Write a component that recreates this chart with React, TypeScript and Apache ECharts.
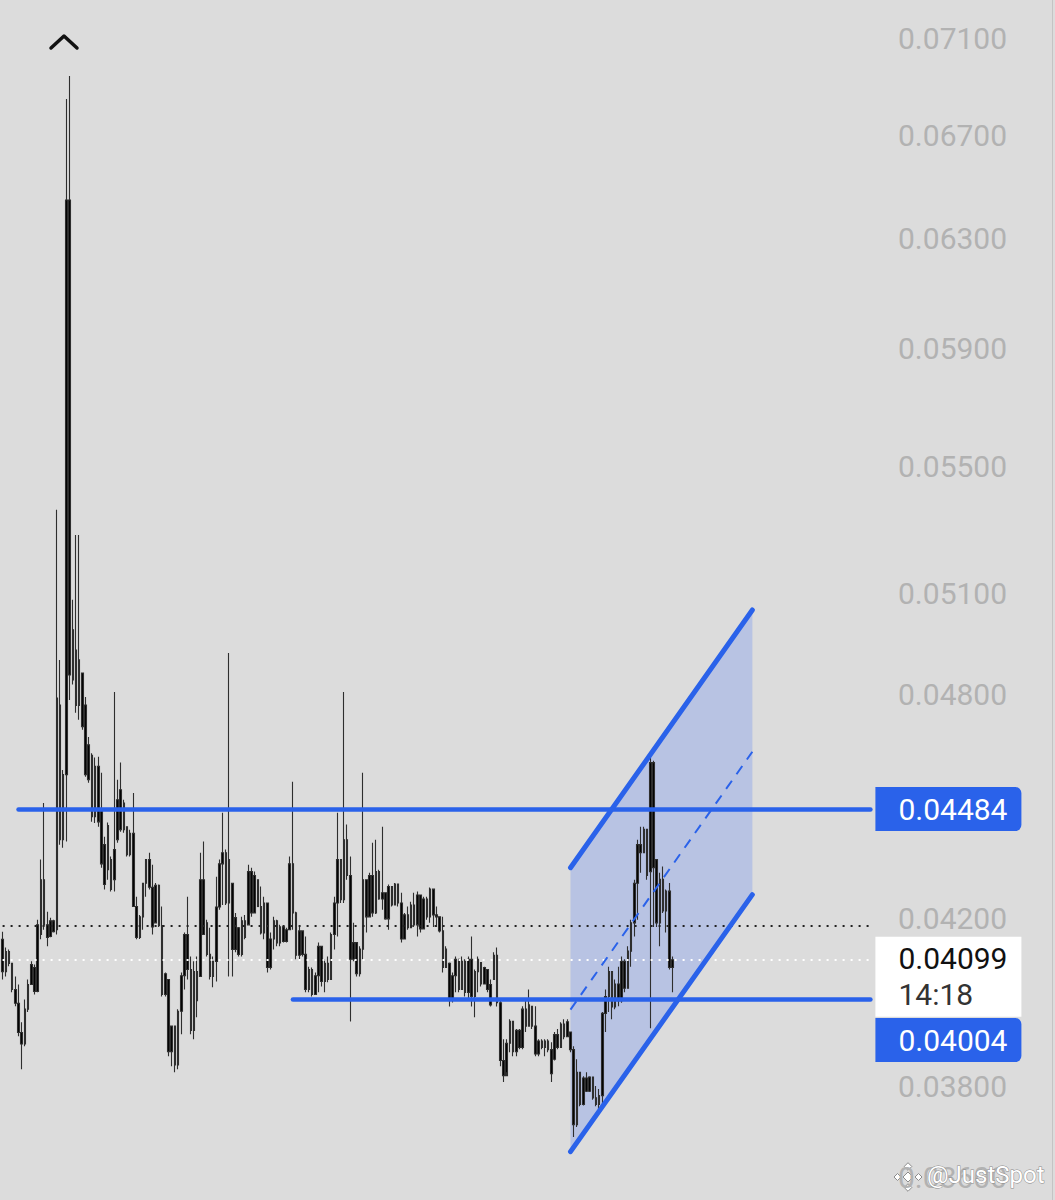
import React, { useEffect, useRef } from "react";
import * as echarts from "echarts";

// ---------- data ----------
const categoryCount = 273; // slots on the time axis (candles + empty space on the right)

// [open, close, low, high]
const candles: number[][] = [
  [0.04149, 0.0407, 0.04051, 0.04168],
  [0.0407, 0.04119, 0.04058, 0.04129],
  [0.04119, 0.0409, 0.04083, 0.04124],
  [0.0409, 0.04027, 0.0402, 0.0409],
  [0.04027, 0.03994, 0.03987, 0.04058],
  [0.03994, 0.03925, 0.03916, 0.04039],
  [0.03925, 0.03898, 0.0384, 0.03949],
  [0.03898, 0.0398, 0.03893, 0.04003],
  [0.0398, 0.04039, 0.03973, 0.04051],
  [0.04039, 0.04087, 0.04039, 0.04095],
  [0.0408, 0.04022, 0.04015, 0.04087],
  [0.04022, 0.04185, 0.0402, 0.04198],
  [0.04161, 0.04299, 0.04149, 0.04351],
  [0.04299, 0.04185, 0.04173, 0.045],
  [0.04185, 0.04154, 0.04132, 0.04218],
  [0.04156, 0.04195, 0.04154, 0.04203],
  [0.04195, 0.04168, 0.04166, 0.04198],
  [0.04173, 0.04791, 0.04161, 0.0536],
  [0.04771, 0.04403, 0.0439, 0.04901],
  [0.04403, 0.04577, 0.04382, 0.0459],
  [0.04577, 0.06447, 0.04398, 0.06847],
  [0.06447, 0.04857, 0.04785, 0.06941],
  [0.04843, 0.0499, 0.0483, 0.0508],
  [0.0493, 0.0477, 0.04749, 0.0528],
  [0.0477, 0.04901, 0.04729, 0.0528],
  [0.04863, 0.0471, 0.04701, 0.04863],
  [0.04771, 0.04577, 0.04571, 0.04794],
  [0.04563, 0.04659, 0.04555, 0.04681],
  [0.0463, 0.04464, 0.0445, 0.04636],
  [0.04464, 0.046, 0.04447, 0.04624],
  [0.046, 0.0445, 0.04437, 0.04626],
  [0.0448, 0.0434, 0.0433, 0.04582],
  [0.04287, 0.0439, 0.04274, 0.04411],
  [0.04325, 0.0444, 0.04299, 0.04448],
  [0.04351, 0.04274, 0.04269, 0.04359],
  [0.04299, 0.04377, 0.04269, 0.04808],
  [0.04403, 0.04509, 0.04395, 0.04563],
  [0.04536, 0.04429, 0.04424, 0.0461],
  [0.04429, 0.045, 0.04421, 0.04509],
  [0.04437, 0.04364, 0.04359, 0.04437],
  [0.04364, 0.0442, 0.04359, 0.04429],
  [0.0442, 0.04231, 0.04231, 0.04527],
  [0.04231, 0.04154, 0.04149, 0.04256],
  [0.04154, 0.04205, 0.0415, 0.0421],
  [0.04205, 0.0429, 0.04173, 0.04291],
  [0.0429, 0.04351, 0.04256, 0.04351],
  [0.04351, 0.0428, 0.04274, 0.04369],
  [0.0428, 0.0418, 0.04161, 0.04338],
  [0.0419, 0.04285, 0.0419, 0.04291],
  [0.04285, 0.04183, 0.0418, 0.04287],
  [0.04183, 0.04015, 0.0401, 0.04231],
  [0.04015, 0.04065, 0.0401, 0.04068],
  [0.04051, 0.0388, 0.0387, 0.04051],
  [0.0388, 0.0394, 0.03847, 0.0394],
  [0.0394, 0.0385, 0.03833, 0.0394],
  [0.0385, 0.03975, 0.0384, 0.0398],
  [0.03975, 0.0406, 0.03921, 0.04068],
  [0.0406, 0.04161, 0.04027, 0.04166],
  [0.04161, 0.04075, 0.04051, 0.04256],
  [0.04075, 0.0393, 0.03921, 0.04107],
  [0.0393, 0.0407, 0.03909, 0.04095],
  [0.0407, 0.04, 0.03961, 0.04107],
  [0.04058, 0.04299, 0.04058, 0.04369],
  [0.04299, 0.04161, 0.04161, 0.04398],
  [0.0419, 0.04112, 0.04107, 0.04198],
  [0.04112, 0.04058, 0.04051, 0.04178],
  [0.04058, 0.04095, 0.04032, 0.04107],
  [0.04095, 0.0423, 0.04046, 0.04307],
  [0.0423, 0.0434, 0.04223, 0.04351],
  [0.0434, 0.04369, 0.04235, 0.04474],
  [0.04369, 0.0424, 0.04235, 0.04377],
  [0.0424, 0.04351, 0.04058, 0.04921],
  [0.0429, 0.04124, 0.04058, 0.04291],
  [0.04124, 0.04203, 0.04117, 0.04215],
  [0.04178, 0.04112, 0.04107, 0.0418],
  [0.04112, 0.04195, 0.04107, 0.04205],
  [0.04195, 0.04154, 0.04149, 0.0421],
  [0.04185, 0.0432, 0.04185, 0.04338],
  [0.0432, 0.04215, 0.04205, 0.0433],
  [0.04215, 0.0431, 0.04215, 0.0432],
  [0.04299, 0.04231, 0.04231, 0.04299],
  [0.04231, 0.04165, 0.04161, 0.04282],
  [0.04165, 0.0424, 0.04149, 0.04256],
  [0.0424, 0.0408, 0.04068, 0.0424],
  [0.0408, 0.0415, 0.04075, 0.04166],
  [0.0415, 0.04195, 0.04124, 0.04205],
  [0.04195, 0.0414, 0.04132, 0.04198],
  [0.0414, 0.0418, 0.04132, 0.04185],
  [0.0418, 0.04144, 0.04141, 0.0418],
  [0.04144, 0.04173, 0.04141, 0.04178],
  [0.04173, 0.0434, 0.04173, 0.04359],
  [0.0434, 0.04215, 0.04173, 0.04558],
  [0.04215, 0.0411, 0.041, 0.04218],
  [0.0411, 0.0417, 0.041, 0.0418],
  [0.0417, 0.04112, 0.04107, 0.0417],
  [0.04112, 0.04027, 0.0402, 0.04156],
  [0.04027, 0.04075, 0.0402, 0.04082],
  [0.04075, 0.04015, 0.0401, 0.0408],
  [0.04015, 0.0406, 0.04015, 0.04068],
  [0.0406, 0.04132, 0.0402, 0.04141],
  [0.04132, 0.04046, 0.04034, 0.04132],
  [0.04046, 0.0409, 0.0402, 0.041],
  [0.0409, 0.04051, 0.04044, 0.04107],
  [0.04051, 0.04161, 0.04051, 0.04166],
  [0.04161, 0.0424, 0.04124, 0.04256],
  [0.0424, 0.04351, 0.04156, 0.04474],
  [0.04351, 0.04248, 0.0424, 0.04351],
  [0.04248, 0.04403, 0.0424, 0.04808],
  [0.04403, 0.0431, 0.04299, 0.04443],
  [0.0431, 0.041, 0.03951, 0.04359],
  [0.041, 0.04141, 0.04095, 0.0419],
  [0.04141, 0.04065, 0.04058, 0.04141],
  [0.04065, 0.04125, 0.04058, 0.04132],
  [0.04125, 0.04299, 0.041, 0.04582],
  [0.04299, 0.04205, 0.04166, 0.04299],
  [0.04205, 0.0431, 0.04205, 0.04317],
  [0.0431, 0.04215, 0.04205, 0.04395],
  [0.04215, 0.0432, 0.04212, 0.04403],
  [0.0432, 0.0425, 0.04248, 0.04325],
  [0.0425, 0.04266, 0.04223, 0.04437],
  [0.04266, 0.042, 0.04198, 0.04266],
  [0.042, 0.04282, 0.04173, 0.04287],
  [0.04282, 0.04235, 0.04231, 0.04282],
  [0.04235, 0.04288, 0.04235, 0.04291],
  [0.04288, 0.0424, 0.04231, 0.04288],
  [0.0424, 0.0415, 0.04141, 0.04266],
  [0.0415, 0.0421, 0.0415, 0.04215],
  [0.0421, 0.04178, 0.04173, 0.04231],
  [0.04178, 0.04235, 0.04178, 0.04243],
  [0.04235, 0.04185, 0.0418, 0.04266],
  [0.04185, 0.0426, 0.04156, 0.04269],
  [0.0426, 0.04175, 0.04166, 0.0426],
  [0.04175, 0.0425, 0.04175, 0.04256],
  [0.0425, 0.04205, 0.04198, 0.04256],
  [0.04205, 0.04275, 0.0419, 0.04279],
  [0.04275, 0.0421, 0.0418, 0.04275],
  [0.0421, 0.04205, 0.0418, 0.04231],
  [0.04205, 0.0417, 0.04166, 0.04205],
  [0.0417, 0.0408, 0.04068, 0.04205],
  [0.0408, 0.04125, 0.0408, 0.04132],
  [0.0409, 0.04005, 0.03986, 0.04092],
  [0.04005, 0.0406, 0.03996, 0.04068],
  [0.0406, 0.041, 0.0402, 0.04107],
  [0.041, 0.04027, 0.0402, 0.041],
  [0.04027, 0.04095, 0.04027, 0.04107],
  [0.04095, 0.0402, 0.0401, 0.041],
  [0.0402, 0.041, 0.04003, 0.04107],
  [0.041, 0.0401, 0.03986, 0.04156],
  [0.0401, 0.0407, 0.03961, 0.04075],
  [0.0407, 0.041, 0.0402, 0.04107],
  [0.04092, 0.0404, 0.04034, 0.04092],
  [0.0404, 0.0408, 0.0404, 0.04082],
  [0.04075, 0.04027, 0.0402, 0.04075],
  [0.04039, 0.0399, 0.03986, 0.04051],
  [0.04051, 0.0411, 0.04051, 0.04117],
  [0.0411, 0.03995, 0.03986, 0.04129],
  [0.03995, 0.0386, 0.03847, 0.04],
  [0.0386, 0.03825, 0.03811, 0.03909],
  [0.03825, 0.039, 0.03833, 0.03909],
  [0.039, 0.03951, 0.03879, 0.03956],
  [0.03951, 0.0388, 0.0387, 0.03951],
  [0.0388, 0.0393, 0.0387, 0.03933],
  [0.0393, 0.0389, 0.03886, 0.03933],
  [0.0389, 0.0398, 0.03886, 0.03987],
  [0.0398, 0.0394, 0.03926, 0.04003],
  [0.0394, 0.0399, 0.03949, 0.04027],
  [0.03987, 0.0394, 0.03933, 0.03987],
  [0.0394, 0.03875, 0.0387, 0.03987],
  [0.03875, 0.03905, 0.0387, 0.03909],
  [0.03905, 0.0389, 0.03886, 0.03909],
  [0.0389, 0.03905, 0.0387, 0.03909],
  [0.03905, 0.03885, 0.03879, 0.03909],
  [0.03885, 0.0383, 0.03811, 0.03902],
  [0.03863, 0.0392, 0.0386, 0.03926],
  [0.0392, 0.0389, 0.03886, 0.03933],
  [0.0389, 0.03945, 0.03893, 0.03949],
  [0.03945, 0.03915, 0.03909, 0.03956],
  [0.03915, 0.0395, 0.03915, 0.03956],
  [0.03926, 0.03885, 0.03879, 0.03926],
  [0.03885, 0.03715, 0.03688, 0.03893],
  [0.03715, 0.03833, 0.0371, 0.03863],
  [0.03833, 0.0376, 0.03756, 0.03833],
  [0.0376, 0.0382, 0.03758, 0.03824],
  [0.0382, 0.0379, 0.03788, 0.03833],
  [0.0379, 0.03822, 0.03788, 0.03824],
  [0.03822, 0.03775, 0.03771, 0.03822],
  [0.03775, 0.0376, 0.03756, 0.03802],
  [0.0376, 0.0378, 0.0375, 0.03795],
  [0.0378, 0.0397, 0.03756, 0.03973],
  [0.0397, 0.0401, 0.03926, 0.04027],
  [0.0401, 0.0407, 0.03973, 0.04082],
  [0.0407, 0.03985, 0.03956, 0.0407],
  [0.03985, 0.0404, 0.0398, 0.04051],
  [0.0404, 0.04, 0.03987, 0.04082],
  [0.04, 0.04095, 0.03995, 0.04107],
  [0.04095, 0.0403, 0.0402, 0.041],
  [0.0403, 0.0412, 0.0403, 0.04132],
  [0.0412, 0.0419, 0.04082, 0.04198],
  [0.0419, 0.0429, 0.04156, 0.04299],
  [0.0429, 0.0439, 0.04198, 0.04403],
  [0.0439, 0.04369, 0.04317, 0.04437],
  [0.04369, 0.0443, 0.04369, 0.04437],
  [0.0443, 0.0431, 0.04299, 0.0443],
  [0.0432, 0.0461, 0.03935, 0.0464],
  [0.0461, 0.0433, 0.0418, 0.04615],
  [0.04351, 0.0419, 0.0418, 0.04351],
  [0.0419, 0.043, 0.04132, 0.04317],
  [0.043, 0.0422, 0.04215, 0.04333],
  [0.0422, 0.0427, 0.04166, 0.04274],
  [0.0427, 0.0408, 0.04075, 0.04291],
  [0.0408, 0.04099, 0.0402, 0.04107],
];

const yTicks = [0.071, 0.067, 0.063, 0.059, 0.055, 0.051, 0.048, 0.042, 0.038, 0.036];
const priceMin = 0.03552;
const priceMax = 0.07263;

const resistanceLevel = 0.04484;
const resistanceStart = 5;
const supportLevel = 0.04004;
const supportStart = 91;
const sessionLevel = 0.04182;
const lastPrice = 0.04099;
const lastTime = "14:18";

const channelX = [178, 235];
const channelUpper = [0.0433, 0.05049];
const channelMid = [0.03979, 0.0464];
const channelLower = [0.03656, 0.04261];

const watermarkText = "@JustSpot";

const BLUE = "#2a62ea";

function buildOption(): any {
  const categories = Array.from({ length: categoryCount }, (_, i) => String(i));
  const lnData = candles.map((c) => c.map((v) => Math.log(v)));
  const lastIdx = categoryCount - 1;

  const hLine = (startIdx: number, price: number, lineStyle: any, label: any) => [
    { coord: [startIdx, Math.log(price)], lineStyle, label },
    { coord: [lastIdx, Math.log(price)] },
  ];

  const blueLabel = (text: string, offsetY: number) => ({
    show: true,
    position: "end",
    distance: 5,
    formatter: text,
    color: "#ffffff",
    backgroundColor: BLUE,
    fontSize: 30,
    lineHeight: 34,
    width: 112,
    padding: [5, 11, 5, 23],
    borderRadius: [0, 6, 6, 0],
    offset: [0, offsetY],
  });

  const diamond = (x: number, y: number, r: number) => ({
    type: "polygon",
    shape: { points: [[x, y - r], [x + r, y], [x, y + r], [x - r, y]] },
    style: { fill: "#ffffff", stroke: "#8c8c8c", lineWidth: 1 },
  });

  return {
    animation: false,
    backgroundColor: "#dcdcdc",
    textStyle: { fontFamily: "Roboto, 'Noto Sans', sans-serif" },
    grid: { left: 1, right: 183, top: 0, bottom: 0, containLabel: false },
    xAxis: {
      type: "category",
      data: categories,
      boundaryGap: true,
      axisLine: { show: false },
      axisTick: { show: false },
      axisLabel: { show: false },
      splitLine: { show: false },
    },
    yAxis: {
      type: "value",
      position: "right",
      min: Math.log(priceMin),
      max: Math.log(priceMax),
      axisLine: { show: false },
      axisTick: { show: false },
      splitLine: { show: false },
      axisLabel: {
        customValues: yTicks.map((t) => Math.log(t)),
        formatter: (v: number) => Math.exp(v).toFixed(5),
        color: "#b2b2b2",
        fontSize: 30,
        margin: 26,
        align: "left",
      },
    },
    series: [
      {
        type: "custom",
        name: "channelFill",
        z: 1,
        silent: true,
        data: [[channelX[0], Math.log(channelLower[0])]],
        renderItem: (_p: any, api: any) => {
          const u1 = api.coord([channelX[0], Math.log(channelUpper[0])]);
          const u2 = api.coord([channelX[1], Math.log(channelUpper[1])]);
          const l1 = api.coord([channelX[0], Math.log(channelLower[0])]);
          const l2 = api.coord([channelX[1], Math.log(channelLower[1])]);
          return {
            type: "polygon",
            shape: { points: [u1, u2, l2, l1] },
            style: { fill: "rgba(50,105,255,0.21)" },
          };
        },
      },
      {
        type: "candlestick",
        z: 2,
        barWidth: 2,
        data: lnData,
        itemStyle: {
          color: "#000000",
          color0: "#000000",
          borderColor: "#2e2e2e",
          borderColor0: "#2e2e2e",
          borderWidth: 1.1,
        },
        markLine: {
          silent: true,
          symbol: ["none", "none"],
          animation: false,
          data: [
            hLine(0, sessionLevel, { color: "#222", width: 2, type: [2, 6] }, { show: false }),
            hLine(
              resistanceStart,
              resistanceLevel,
              { color: BLUE, width: 4.5, type: "solid", cap: "round" },
              blueLabel(resistanceLevel.toFixed(5), 0)
            ),
            hLine(
              supportStart,
              supportLevel,
              { color: BLUE, width: 4.5, type: "solid", cap: "round" },
              blueLabel(supportLevel.toFixed(5), 41)
            ),
            hLine(0, lastPrice, { color: "#ffffff", width: 2, type: [2, 6] }, {
              show: true,
              position: "end",
              distance: 5,
              formatter: `{p|${lastPrice.toFixed(5)}}\n{t|${lastTime}}`,
              backgroundColor: "#ffffff",
              width: 112,
              padding: [4, 11, 4, 23],
              offset: [0, 17],
              rich: {
                p: { color: "#111", fontSize: 30, lineHeight: 36, fontFamily: "Roboto" },
                t: { color: "#333", fontSize: 30, lineHeight: 36, fontFamily: "Roboto" },
              },
            }),
          ],
        },
      },
      {
        type: "custom",
        name: "channelLines",
        z: 5,
        silent: true,
        data: [[channelX[0], Math.log(channelLower[0])]],
        renderItem: (_p: any, api: any) => {
          const pt = (i: number, arr: number[]) => api.coord([channelX[i], Math.log(arr[i])]);
          const solid = { stroke: BLUE, lineWidth: 5, lineCap: "round" };
          const seg = (arr: number[], style: any) => {
            const a = pt(0, arr);
            const b = pt(1, arr);
            return { type: "line", shape: { x1: a[0], y1: a[1], x2: b[0], y2: b[1] }, style };
          };
          return {
            type: "group",
            children: [
              seg(channelUpper, solid),
              seg(channelLower, solid),
              seg(channelMid, { stroke: BLUE, lineWidth: 2, lineDash: [10, 8] }),
            ],
          };
        },
      },
    ],
    graphic: [
      {
        type: "polyline",
        z: 100,
        shape: { points: [[51, 48], [64, 36], [77, 48]] },
        style: { stroke: "#111", lineWidth: 3.5, fill: null, lineCap: "round", lineJoin: "round" },
      },
      {
        type: "line",
        z: 100,
        shape: { x1: 1052.5, y1: 0, x2: 1052.5, y2: 1200 },
        style: { stroke: "#c4c4c4", lineWidth: 1 },
      },
      {
        type: "group",
        z: 100,
        children: [
          diamond(908, 1177, 5),
          diamond(908, 1166.5, 3.8),
          diamond(908, 1187.5, 3.8),
          diamond(897.5, 1177, 3.5),
          diamond(918.5, 1177, 3.5),
        ],
      },
      {
        type: "text",
        z: 100,
        x: 927,
        y: 1175,
        style: {
          text: watermarkText,
          fill: "#ffffff",
          stroke: "#8a8a8a",
          lineWidth: 1,
          fontSize: 24,
          fontFamily: "Roboto",
          verticalAlign: "middle",
          align: "left",
        },
      },
    ],
  };
}

export default function App() {
  const ref = useRef<HTMLDivElement>(null);
  useEffect(() => {
    if (!ref.current) return;
    const chart = echarts.init(ref.current, undefined, { renderer: "svg" });
    chart.setOption(buildOption());
    return () => chart.dispose();
  }, []);
  return (
    <div
      ref={ref}
      style={{ position: "absolute", left: 0, top: 0, width: 1055, height: 1200 }}
    />
  );
}
